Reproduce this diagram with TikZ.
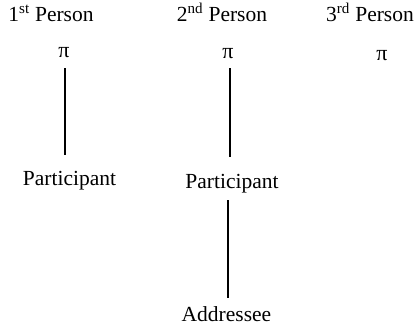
\documentclass[tikz,border=0pt]{standalone}
\usepackage{fontspec}
\setmainfont{Liberation Serif}
\begin{document}
\begin{tikzpicture}[x=1pt,y=-1pt,
  lbl/.style={anchor=base,inner sep=0pt,font=\fontsize{21.5}{24}\selectfont},
  pinode/.style={anchor=base,inner sep=0pt,font=\fontsize{22}{24}\selectfont},
  link/.style={line width=1.6pt}]
\useasboundingbox (0,0) rectangle (416,325);
\node[lbl] (h1) at (51,21) {1\textsuperscript{st} Person};
\node[lbl] (h2) at (222,21) {2\textsuperscript{nd} Person};
\node[lbl] (h3) at (370,21) {3\textsuperscript{rd} Person};
\node[pinode] (p1) at (64,57) {π};
\node[pinode] (p2) at (228,58) {π};
\node[pinode] (p3) at (382,60) {π};
\node[lbl] (a1) at (69.5,185) {Participant};
\node[lbl] (a2) at (232,188) {Participant};
\node[lbl] (ad) at (226.5,321) {Addressee};
\draw[link] ([xshift=1pt,yshift=-11pt]p1.south) -- ([xshift=-4.5pt,yshift=15.4pt]a1.north);
\draw[link] ([xshift=2pt,yshift=-10pt]p2.south) -- ([xshift=-2pt,yshift=16.4pt]a2.north);
\draw[link] ([xshift=-4pt,yshift=-7.3pt]a2.south) -- ([xshift=1.5pt,yshift=8.3pt]ad.north);
\end{tikzpicture}
\end{document}
